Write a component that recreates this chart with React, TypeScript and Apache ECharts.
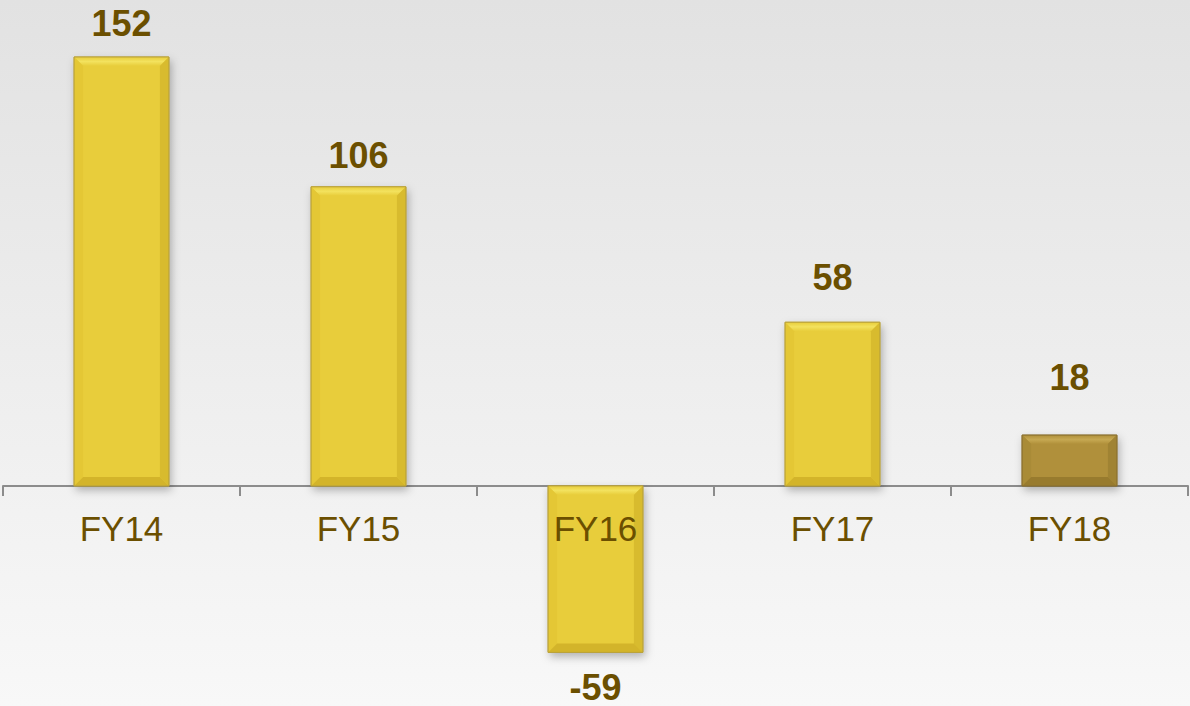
import React, { useEffect, useRef } from "react";
import * as echarts from "echarts";

const categories = ["FY14", "FY15", "FY16", "FY17", "FY18"];
const values = [152, 106, -59, 58, 18];
const highlightCategory = "FY18";

// styling: pixel gap between bar end and its value label centre (as placed in the reference)
const LABEL_GAPS = [33, 31, 35, 45, 58];
const CATEGORY_LABEL_OFFSET = 43;

const GOLD = { face: "#e8cd3a", top: "#f3e25e", left: "#e4c735", right: "#d8bb2e", bottom: "#d3b42a", stroke: "#b9a23c" };
const DARK = { face: "#b0903a", top: "#c6a852", left: "#a98b37", right: "#a08333", bottom: "#987b2e", stroke: "#8a7030" };
const TEXT_COLOR = "#6b4f00";

export default function App() {
  const ref = useRef<HTMLDivElement>(null);
  useEffect(() => {
    if (!ref.current) return;
    const chart = echarts.init(ref.current, undefined, { renderer: "svg" });
    chart.setOption({
      animation: false,
      backgroundColor: {
        type: "linear", x: 0, y: 0, x2: 0, y2: 1,
        colorStops: [{ offset: 0, color: "#e2e2e2" }, { offset: 1, color: "#f8f8f8" }],
      },
      grid: { left: 3, right: 2, top: 0, bottom: 0, containLabel: false, outerBoundsMode: "none" },
      xAxis: {
        type: "category",
        data: categories,
        boundaryGap: true,
        z: 1,
        axisLine: { show: true, onZero: true, lineStyle: { color: "#8c8c8c", width: 2 } },
        axisTick: { show: true, length: 10, lineStyle: { color: "#8c8c8c", width: 2 } },
        axisLabel: { show: false },
        splitLine: { show: false },
      },
      yAxis: { type: "value", min: -78, max: 172.2, show: false, splitLine: { show: false } },
      series: [
        {
          type: "custom",
          encode: { x: 0, y: 1 },
          clip: false,
          data: values.map((v, i) => [i, v]),
          renderItem: (params: any, api: any) => {
            const idx = params.dataIndex;
            const i = api.value(0);
            const v = api.value(1);
            const p0 = api.coord([i, 0]);
            const p1 = api.coord([i, v]);
            const w = api.size([1, 0])[0] * 0.4;
            const x = p0[0] - w / 2;
            const y = Math.min(p0[1], p1[1]);
            const h = Math.abs(p1[1] - p0[1]);
            const b = Math.min(9, h / 2);
            const c = categories[idx] === highlightCategory ? DARK : GOLD;
            const gap = LABEL_GAPS[idx];
            return {
              type: "group",
              children: [
                {
                  type: "rect",
                  shape: { x, y, width: w, height: h },
                  style: { fill: c.face, stroke: c.stroke, lineWidth: 1, shadowBlur: 8, shadowOffsetX: 2, shadowOffsetY: 4, shadowColor: "rgba(0,0,0,0.28)" },
                },
                {
                  type: "polygon",
                  shape: { points: [[x, y], [x + w, y], [x + w - b, y + b], [x + b, y + b]] },
                  style: {
                    fill: {
                      type: "linear", x: 0, y: 0, x2: 0, y2: 1,
                      colorStops: [{ offset: 0, color: c.face }, { offset: 0.5, color: c.top }, { offset: 1, color: c.face }],
                    },
                  },
                },
                {
                  type: "polygon",
                  shape: { points: [[x, y], [x + b, y + b], [x + b, y + h - b], [x, y + h]] },
                  style: { fill: c.left },
                },
                {
                  type: "polygon",
                  shape: { points: [[x + w, y], [x + w - b, y + b], [x + w - b, y + h - b], [x + w, y + h]] },
                  style: { fill: c.right },
                },
                {
                  type: "polygon",
                  shape: { points: [[x, y + h], [x + b, y + h - b], [x + w - b, y + h - b], [x + w, y + h]] },
                  style: { fill: c.bottom },
                },
                {
                  type: "rect",
                  shape: { x, y, width: w, height: h },
                  style: { fill: "none", stroke: c.stroke, lineWidth: 1 },
                },
                {
                  type: "text",
                  style: {
                    text: String(v),
                    x: p0[0],
                    y: v >= 0 ? y - gap : y + h + gap,
                    align: "center",
                    verticalAlign: "middle",
                    font: "bold 36px 'Liberation Sans', Arial, sans-serif",
                    fill: TEXT_COLOR,
                  },
                },
                {
                  type: "text",
                  style: {
                    text: categories[idx],
                    x: p0[0],
                    y: p0[1] + CATEGORY_LABEL_OFFSET,
                    align: "center",
                    verticalAlign: "middle",
                    font: "35px 'Liberation Sans', Arial, sans-serif",
                    fill: TEXT_COLOR,
                  },
                },
              ],
            };
          },
        },
      ],
    });
    return () => chart.dispose();
  }, []);
  return <div ref={ref} style={{ position: "absolute", left: 0, top: 0, width: 1190, height: 706 }} />;
}
